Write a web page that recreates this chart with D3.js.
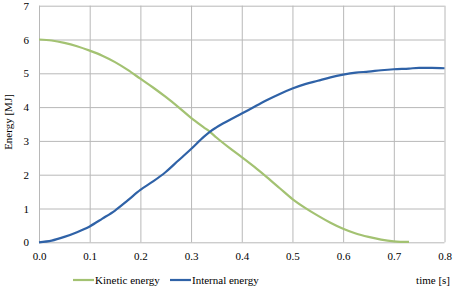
<!DOCTYPE html>
<html>
<head>
<meta charset="utf-8">
<script src="https://cdn.jsdelivr.net/npm/d3@7"></script>
<style>
	body { margin: 0; background: #fff; }
	svg text { font-family: "Liberation Serif", "Times New Roman", Times, serif !important; fill: #000; }
	.series { fill: none; stroke-width: 2.2; stroke-linejoin: round; }
</style>
</head>
<body>
<div class="container"></div>
<script>
var times = [0, 0.025, 0.05, 0.075, 0.1, 0.125, 0.15, 0.175, 0.2, 0.225, 0.25, 0.275, 0.3, 0.325, 0.337, 0.35, 0.375,
	0.4, 0.425, 0.45, 0.475, 0.5, 0.525, 0.55, 0.575, 0.6, 0.625, 0.65, 0.675, 0.7, 0.73, 0.75, 0.775, 0.8];
var kinetic = [6.00, 5.97, 5.90, 5.80, 5.67, 5.52, 5.33, 5.10, 4.84, 4.58, 4.30, 4.00, 3.68, 3.40, 3.27, 3.10, 2.80,
	2.52, 2.23, 1.92, 1.60, 1.28, 1.02, 0.79, 0.58, 0.40, 0.26, 0.16, 0.08, 0.03, 0.01];
var internal = [0, 0.05, 0.16, 0.30, 0.47, 0.70, 0.94, 1.24, 1.55, 1.80, 2.08, 2.42, 2.76, 3.12, 3.27, 3.40, 3.61,
	3.81, 4.01, 4.21, 4.39, 4.55, 4.68, 4.78, 4.88, 4.96, 5.02, 5.05, 5.09, 5.12, 5.14, 5.16, 5.16, 5.15];
var xTicks = [0, 0.1, 0.2, 0.3, 0.4, 0.5, 0.6, 0.7, 0.8];
var yTicks = [0, 1, 2, 3, 4, 5, 6, 7];
var seriesNames = ['Kinetic energy', 'Internal energy'];
var seriesColors = ['#a3c272', '#2f62a7'];

const WIDTH = 456;
const HEIGHT = 289;
const LEFT = 39, RIGHT = 444.5, TOP = 5.7, BOTTOM = 242.3;
const FONT = '"Liberation Serif", "Times New Roman", serif';

var translate = function(x, y){
	return "translate(" + x + "," + y + ")";
};

var svg = d3.select('.container').append('svg')
	.attr('width', WIDTH)
	.attr('height', HEIGHT)
	.attr('font-family', FONT);

var xScale = d3.scaleLinear().domain([0, 0.8]).range([LEFT, RIGHT]);
var yScale = d3.scaleLinear().domain([0, 7]).range([BOTTOM, TOP]);

// vertical grid + x labels
svg.append('g')
	.attr('transform', translate(0, BOTTOM))
	.classed('grid', true)
	.call(d3.axisBottom(xScale).tickValues(xTicks).tickSize(-(BOTTOM - TOP)).tickSizeOuter(0).tickFormat(d3.format('.1f')))
	.call(function(g){
		g.select('.domain').remove();
		g.selectAll('text').attr('y', 10).attr('dy', '0.71em');
	});

// horizontal grid + y labels
svg.append('g')
	.attr('transform', translate(LEFT, 0))
	.classed('grid', true)
	.call(d3.axisLeft(yScale).tickValues(yTicks).tickSize(-(RIGHT - LEFT)).tickSizeOuter(0).tickFormat(d3.format('d')))
	.call(function(g){
		g.select('.domain').remove();
		g.selectAll('text').attr('x', -10);
	});

svg.selectAll('.grid')
	.attr('font-family', FONT)
	.attr('font-size', 11);
svg.selectAll('.grid .tick line').attr('stroke', '#b8b8b8');

svg.append('text')
	.attr('transform', translate(12, 122) + ' rotate(-90)')
	.attr('text-anchor', 'middle')
	.attr('font-size', 11)
	.text('Energy [MJ]');

var line = d3.line()
	.x(function(d){ return xScale(d[0]); })
	.y(function(d){ return yScale(d[1]); })
	.curve(d3.curveMonotoneX);

[kinetic, internal].forEach(function(vals, i){
	var pts = vals.map(function(v, j){ return [times[j], v]; });
	svg.append('path')
		.classed('series', true)
		.attr('stroke', seriesColors[i])
		.attr('d', line(pts));
});

// legend
var legendX = [73, 170];
var legend = svg.selectAll('.legend').data(seriesNames)
	.enter().append('g')
	.attr('transform', function(d, i){ return translate(legendX[i], 280); });
legend.append('line')
	.attr('x1', 0).attr('x2', 21).attr('y1', 0).attr('y2', 0)
	.attr('stroke', function(d, i){ return seriesColors[i]; })
	.attr('stroke-width', 2.2);
legend.append('text')
	.attr('x', 22).attr('dy', '0.35em')
	.attr('font-size', 11)
	.text(function(d){ return d; });

svg.append('text')
	.attr('x', 450).attr('y', 280).attr('dy', '0.35em')
	.attr('text-anchor', 'end')
	.attr('font-size', 11)
	.text('time [s]');
</script>
</body>
</html>
